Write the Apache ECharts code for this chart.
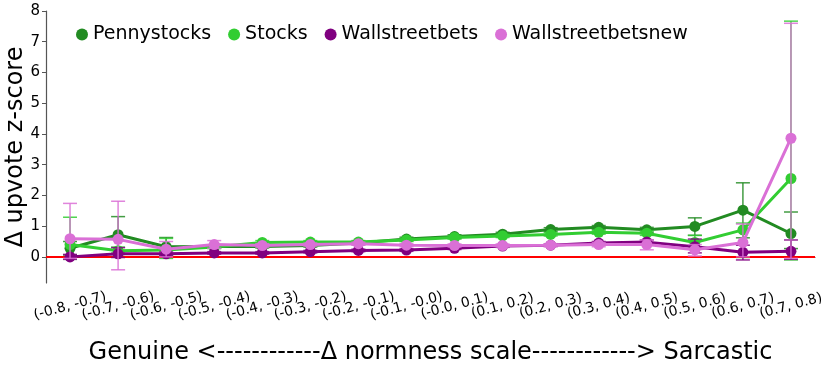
<!DOCTYPE html>
<html>
<head>
<meta charset="utf-8">
<script src="https://cdn.jsdelivr.net/npm/echarts@6/dist/echarts.min.js"></script>
<style>
  html, body { margin: 0; padding: 0; background: #fff; }
  #chart { width: 831px; height: 367px; }
</style>
</head>
<body>
<div id="chart"></div>
<script>
  const categories = ['(-0.8, -0.7)', '(-0.7, -0.6)', '(-0.6, -0.5)', '(-0.5, -0.4)', '(-0.4, -0.3)', '(-0.3, -0.2)',
    '(-0.2, -0.1)', '(-0.1, -0.0)', '(-0.0, 0.1)', '(0.1, 0.2)', '(0.2, 0.3)', '(0.3, 0.4)', '(0.4, 0.5)',
    '(0.5, 0.6)', '(0.6, 0.7)', '(0.7, 0.8)']
  const yTicks = [0, 1, 2, 3, 4, 5, 6, 7, 8]

  const pennyMean = [0.28, 0.72, 0.33, 0.34, 0.34, 0.37, 0.45, 0.58, 0.66, 0.74, 0.89, 0.96, 0.88, 0.99, 1.52, 0.76]
  const pennyLow = [0.06, 0.12, 0.03, 0.29, 0.29, 0.32, 0.40, 0.52, 0.60, 0.68, 0.83, 0.90, 0.80, 0.70, 0.62, 0.27]
  const pennyHigh = [0.50, 1.31, 0.63, 0.39, 0.39, 0.42, 0.50, 0.64, 0.72, 0.80, 0.95, 1.02, 0.96, 1.27, 2.41, 1.46]

  const stocksMean = [0.40, 0.20, 0.22, 0.32, 0.47, 0.48, 0.48, 0.55, 0.63, 0.68, 0.73, 0.80, 0.77, 0.47, 0.88, 2.55]
  const stocksLow = [-0.08, 0.08, -0.05, 0.27, 0.42, 0.43, 0.43, 0.50, 0.58, 0.63, 0.68, 0.74, 0.70, 0.28, -0.02, -0.10]
  const stocksHigh = [1.29, 0.32, 0.60, 0.37, 0.53, 0.53, 0.53, 0.60, 0.68, 0.73, 0.79, 0.86, 0.84, 0.70, 1.10, 7.67]

  const wsbMean = [0.00, 0.10, 0.10, 0.13, 0.13, 0.17, 0.21, 0.22, 0.28, 0.35, 0.38, 0.45, 0.48, 0.33, 0.15, 0.18]
  const wsbLow = [-0.08, -0.02, 0.04, 0.09, 0.09, 0.13, 0.17, 0.18, 0.24, 0.31, 0.34, 0.40, 0.42, 0.13, -0.10, -0.08]
  const wsbHigh = [0.08, 0.30, 0.16, 0.17, 0.17, 0.21, 0.25, 0.26, 0.32, 0.39, 0.42, 0.50, 0.55, 0.58, 0.38, 0.55]

  const wsbnMean = [0.59, 0.57, 0.25, 0.40, 0.37, 0.40, 0.43, 0.38, 0.37, 0.37, 0.38, 0.40, 0.40, 0.23, 0.47, 3.86]
  const wsbnLow = [-0.05, -0.42, 0.00, 0.28, 0.31, 0.35, 0.38, 0.33, 0.32, 0.32, 0.33, 0.33, 0.23, 0.03, 0.00, -0.05]
  const wsbnHigh = [1.74, 1.81, 0.50, 0.53, 0.43, 0.45, 0.48, 0.43, 0.42, 0.42, 0.43, 0.47, 0.55, 0.40, 1.07, 7.60]

  const names = ['Pennystocks', 'Stocks', 'Wallstreetbets', 'Wallstreetbetsnew']
  const colors = ['#228B22', '#32CD32', '#800080', '#DA70D6']
  const means = [pennyMean, stocksMean, wsbMean, wsbnMean]
  const lows = [pennyLow, stocksLow, wsbLow, wsbnLow]
  const highs = [pennyHigh, stocksHigh, wsbHigh, wsbnHigh]

  function errorBars (color) {
    return function (params, api) {
      const x = api.value(0)
      const lo = api.coord([x, api.value(1)])
      const hi = api.coord([x, api.value(2)])
      const w = 7
      const style = { stroke: color, lineWidth: 1.5, opacity: 0.85 }
      return {
        type: 'group',
        children: [
          { type: 'line', shape: { x1: lo[0], y1: lo[1], x2: hi[0], y2: hi[1] }, style: style },
          { type: 'line', shape: { x1: lo[0] - w, y1: lo[1], x2: lo[0] + w, y2: lo[1] }, style: style },
          { type: 'line', shape: { x1: hi[0] - w, y1: hi[1], x2: hi[0] + w, y2: hi[1] }, style: style }
        ]
      }
    }
  }

  let series = []
  for (let s = 0; s < 4; s++) {
    series.push({
      name: names[s] + ' err',
      type: 'custom',
      renderItem: errorBars(colors[s]),
      data: categories.map((c, i) => [i, lows[s][i], highs[s][i]]),
      encode: { x: 0, y: [1, 2] },
      z: 2 + s * 2,
      silent: true
    })
    series.push({
      name: names[s],
      type: 'line',
      data: means[s],
      color: colors[s],
      symbol: 'circle',
      symbolSize: 11,
      lineStyle: { width: 3 },
      z: 3 + s * 2,
      markLine: s === 0 ? {
        silent: true,
        symbol: 'none',
        label: { show: false },
        lineStyle: { color: '#ff0000', width: 2, type: 'solid' },
        data: [{ yAxis: 0 }]
      } : undefined
    })
  }

  const chart = echarts.init(document.getElementById('chart'))
  chart.setOption({
    animation: false,
    textStyle: { fontFamily: 'DejaVu Sans' },
    grid: { left: 46, right: 16, top: 11, bottom: 84, outerBoundsMode: 'none', containLabel: false },
    legend: {
      data: names,
      left: 71,
      top: 20,
      icon: 'circle',
      itemWidth: 12,
      itemHeight: 12,
      itemGap: 17,
      textStyle: { fontSize: 19, color: '#000' }
    },
    xAxis: {
      type: 'category',
      data: categories,
      boundaryGap: true,
      name: 'Genuine <------------Δ normness scale------------> Sarcastic',
      nameLocation: 'middle',
      nameGap: 58,
      nameMoveOverlap: false,
      nameTextStyle: { fontSize: 24, color: '#000' },
      axisLine: { lineStyle: { color: '#555', width: 1.2 } },
      axisTick: { alignWithLabel: true, length: 4, lineStyle: { color: '#555' } },
      axisLabel: { rotate: 15, fontSize: 14, color: '#000', interval: 0, margin: 23, align: 'center', verticalAlign: 'middle' }
    },
    yAxis: {
      type: 'value',
      min: -0.85,
      max: 8,
      name: 'Δ upvote z-score',
      nameLocation: 'middle',
      nameGap: 18,
      nameMoveOverlap: false,
      nameTextStyle: { fontSize: 24, color: '#000' },
      splitLine: { show: false },
      axisLine: { show: true, lineStyle: { color: '#555', width: 1.2 } },
      axisTick: { show: true, length: 4, customValues: yTicks, lineStyle: { color: '#555' } },
      axisLabel: { fontSize: 15, color: '#000', customValues: yTicks, margin: 6 }
    },
    series: series
  })
</script>
</body>
</html>
